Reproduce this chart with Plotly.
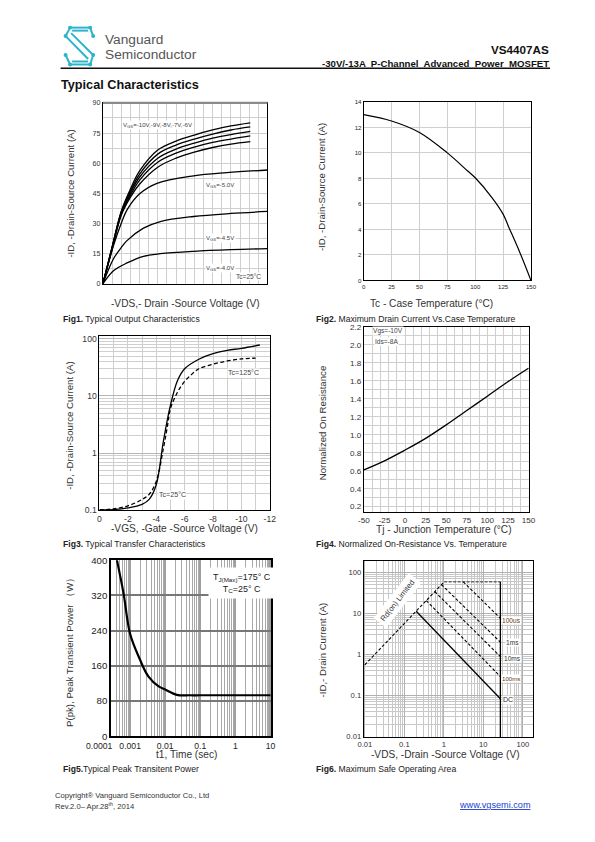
import plotly.graph_objects as go

W, H = 595, 842
FONT = "Liberation Sans"
NARROW = "Liberation Sans Narrow, Liberation Sans"

# ---------------- Fig1: output characteristics ----------------
vds_hi = [0, 0.25, 0.5, 0.75, 1.0, 1.5, 2.0, 2.5, 3.0, 3.5, 4.03]
id_vgs10 = [0, 18, 36, 47, 56, 66.5, 71, 74, 76.5, 78.5, 80]
id_vgs9 = [0, 18, 35.5, 46, 54.5, 64.5, 69, 72, 74.5, 76.5, 78]
id_vgs8 = [0, 18, 35, 45, 53, 62.5, 67, 70, 72.5, 74.2, 75.8]
id_vgs7 = [0, 17.5, 34.5, 44, 51.5, 60.5, 65, 68, 70.3, 72, 73.6]
id_vgs6 = [0, 17, 34, 43, 49.5, 58, 62.5, 65.5, 67.8, 69.5, 70.7]
vds_5 = [0, 0.29, 0.5, 0.66, 1.02, 1.48, 2.48, 3.39, 4.5]
id_vgs5 = [0, 19, 30, 36.8, 45, 50, 53.7, 55.3, 56.6]
vds_45 = [0, 0.29, 0.5, 0.66, 1.11, 1.57, 2.48, 3.5, 4.5]
id_vgs45 = [0, 12.5, 18, 21.5, 27.7, 31, 33.5, 35, 36]
vds_4 = [0, 0.29, 0.66, 1.11, 1.57, 2.48, 3.5, 4.5]
id_vgs4 = [0, 6.5, 10.4, 13.7, 15, 16.2, 17, 17.5]
fig1_yticks = [0, 15, 30, 45, 60, 75, 90]

# ---------------- Fig2: max drain current vs case temperature ----------------
tc2 = [0, 25, 50, 75, 93, 100, 115, 125, 130, 140, 150]
id2 = [13.0, 12.5, 11.6, 10.0, 8.6, 8.05, 6.5, 5.2, 4.2, 2.2, 0]

# ---------------- Fig3: transfer characteristics ----------------
vgs_25 = [0, 1, 2, 3, 3.5, 4, 4.5, 5, 5.5, 6, 7, 8, 9, 10, 11.3]
id_25 = [0.102, 0.103, 0.11, 0.127, 0.155, 0.28, 1.6, 6.9, 18.7, 30, 44, 55, 63, 68, 78]
vgs_125 = [0, 1, 2, 3, 3.5, 4, 4.5, 4.8, 5, 5.5, 6, 6.5, 7, 8, 9, 10, 11]
id_125 = [0.102, 0.106, 0.12, 0.155, 0.19, 0.32, 1.2, 3.1, 6, 11.7, 18, 24, 30, 36, 41, 44.5, 46]
fig3_xticks = [0, 2, 4, 6, 8, 10, 12]
fig3_xlabels = ["0", "-2", "-4", "-6", "-8", "-10", "-12"]

# ---------------- Fig4: normalized on-resistance ----------------
tj4 = [-50, -25, 0, 25, 50, 75, 100, 125, 150]
rn4 = [0.61, 0.71, 0.83, 0.96, 1.11, 1.27, 1.43, 1.59, 1.74]
fig4_xticks = [-50, -25, 0, 25, 50, 75, 100, 125, 150]

# ---------------- Fig5: peak transient power ----------------
t5 = [0.00042, 0.00065, 0.001, 0.00193, 0.0033, 0.0065, 0.01, 0.0215, 0.05, 0.1, 1, 10]
p5 = [400, 324, 232, 173, 136, 113, 106, 94, 93, 93, 93, 93]
fig5_xticks = [0.001, 0.01, 0.1, 1, 10]
fig5_xlabels = ["0.001", "0.01", "0.1", "1", "10"]

# ---------------- Fig6: safe operating area ----------------
rds_x = [0.01, 1.02]
rds_y = [0.56, 59]
lim_x = [1.02, 27]
lim_y = [59, 59]
vmax_x = [27, 27]
vmax_y = [0.0096, 59]
us100_x = [3.1, 27]
us100_y = [59, 7.6]
ms1_x = [0.87, 27]
ms1_y = [50.5, 2.0]
ms10_x = [0.59, 27]
ms10_y = [34, 0.89]
ms100_x = [0.36, 27]
ms100_y = [20.6, 0.29]
dc_x = [0.2, 27]
dc_y = [11.3, 0.083]
fig6_ticks = [0.01, 0.1, 1, 10, 100]
fig6_labels = ["0.01", "0.1", "1", "10", "100"]

# page-pixel -> layout-pixel correction (compensates the capture's inset/scale)
AX, BX, AY, BY = 6.0, 0.978, 3.8, 0.9906
FS = 1.015


def TX(p):
    return (p - AX) / BX


def TY(p):
    return (p - AY) / BY


def dom_x(a, b):
    return [TX(a) / W, TX(b) / W]


def dom_y(top, bottom):
    return [1 - TY(bottom) / H, 1 - TY(top) / H]


fig = go.Figure()


def line(x, y, ax, dash="solid", width=1.3, shape="spline", color="black"):
    fig.add_trace(go.Scatter(x=x, y=y, mode="lines", xaxis="x" + ax, yaxis="y" + ax,
                             line=dict(color=color, width=width, dash=dash, shape=shape),
                             showlegend=False, hoverinfo="skip"))


# Fig1
for ys in [id_vgs10, id_vgs9, id_vgs8, id_vgs7, id_vgs6]:
    line(vds_hi, ys, "")
line(vds_5, id_vgs5, "")
line(vds_45, id_vgs45, "")
line(vds_4, id_vgs4, "")
# Fig2
line(tc2, id2, "2", width=1.2)
# Fig3
line(vgs_25, id_25, "3", width=1.3)
line(vgs_125, id_125, "3", dash="4px,2.5px", width=1.3)
# Fig4
line(tj4, rn4, "4", width=1.3)
# Fig5
line(t5, p5, "5", width=2.2)
# Fig6
line(rds_x, rds_y, "6", dash="3px,2px", width=1.1, shape="linear")
line(lim_x, lim_y, "6", dash="3px,1.5px", width=1.5, shape="linear", color="#666")
line(vmax_x, vmax_y, "6", width=1.3, shape="linear")
for xs, ys in [(us100_x, us100_y), (ms1_x, ms1_y), (ms10_x, ms10_y), (ms100_x, ms100_y)]:
    line(xs, ys, "6", dash="3px,2px", width=1.1, shape="linear")
line(dc_x, dc_y, "6", width=1.3, shape="linear")

GRID = "#cfcfcf"
common = dict(showline=True, linecolor="black", linewidth=1, mirror=True, ticks="",
              zeroline=False, fixedrange=True)


def tf(size, color="#333", family=FONT):
    return dict(size=size * FS, color=color, family=family)


layout = dict(
    width=W, height=H, margin=dict(l=0, r=0, t=0, b=0),
    paper_bgcolor="white", plot_bgcolor="white", showlegend=False,
    font=dict(family=FONT, color="#222"),
)

# Fig1 axes
layout["xaxis"] = dict(domain=dom_x(102.7, 267), anchor="y", range=[0, 4.5], dtick=0.25,
                       showticklabels=False, gridcolor=GRID, **common)
layout["yaxis"] = dict(domain=dom_y(101, 282.7), anchor="x", range=[0, 90],
                       tickmode="array",
                       tickvals=[v * 7.5 for v in range(13)],
                       ticktext=[str(int(v * 7.5)) if (v * 7.5) in fig1_yticks else "" for v in range(13)],
                       tickfont=tf(7), gridcolor=GRID, **common)
# Fig2
layout["xaxis2"] = dict(domain=dom_x(363, 530), anchor="y2", range=[0, 150], dtick=25,
                        tickfont=tf(6, "#222"), gridcolor=GRID, **common)
layout["yaxis2"] = dict(domain=dom_y(100, 279.3), anchor="x2", range=[0, 14], dtick=2,
                        tickfont=tf(6, "#222"), gridcolor=GRID, **common)
# Fig3
layout["xaxis3"] = dict(domain=dom_x(99.3, 269.3), anchor="y3", range=[0, 12],
                        tickmode="array", tickvals=fig3_xticks, ticktext=fig3_xlabels,
                        tickfont=tf(8.5), gridcolor=GRID,
                        minor=dict(dtick=1, showgrid=True, gridcolor=GRID), **common)
layout["yaxis3"] = dict(domain=dom_y(335, 510), anchor="x3", type="log", range=[-1, 2.05],
                        tickmode="array", tickvals=[0.1, 1, 10, 100], ticktext=["0.1", "1", "10", "100"],
                        tickfont=tf(8.5), gridcolor="#b5b5b5",
                        minor=dict(dtick="D1", showgrid=True, gridcolor=GRID), **common)
# Fig4
layout["xaxis4"] = dict(domain=dom_x(363.3, 528.3), anchor="y4", range=[-50, 151],
                        tickmode="array", tickvals=fig4_xticks, ticktext=[str(v) for v in fig4_xticks],
                        showgrid=False, tickfont=tf(8),
                        minor=dict(tick0=-50, dtick=10, showgrid=True, gridcolor=GRID), **common)
layout["yaxis4"] = dict(domain=dom_y(326, 511.7), anchor="x4", range=[0.14, 2.2],
                        tickmode="array", tickvals=[0.2 * k for k in range(1, 12)],
                        ticktext=["%.1f" % (0.2 * k) for k in range(1, 12)],
                        tickfont=tf(8), gridcolor=GRID,
                        minor=dict(dtick=0.1, showgrid=True, gridcolor=GRID), **common)
# Fig5
c5 = dict(common)
c5["linewidth"] = 2
layout["xaxis5"] = dict(domain=dom_x(111, 271), anchor="y5", type="log", range=[-3.54, 1.03],
                        tickmode="array", tickvals=fig5_xticks, ticktext=fig5_xlabels,
                        tickfont=tf(8.5, "#222", NARROW),
                        gridcolor="#a0a0a0", gridwidth=1.5,
                        minor=dict(dtick="D1", showgrid=True, gridcolor="#a8a8a8", gridwidth=1.2), **c5)
layout["yaxis5"] = dict(domain=dom_y(560, 736.7), anchor="x5", range=[0, 400], dtick=80,
                        tickfont=tf(9.5, "#222", NARROW),
                        gridcolor="#777", gridwidth=1.5, **c5)
# Fig6
layout["xaxis6"] = dict(domain=dom_x(363, 531.7), anchor="y6", type="log", range=[-2.03, 2.25],
                        tickmode="array", tickvals=fig6_ticks, ticktext=fig6_labels,
                        tickfont=tf(7.5), gridcolor="#b0b0b0",
                        minor=dict(dtick="D1", showgrid=True, gridcolor="#c8c8c8"), **common)
layout["yaxis6"] = dict(domain=dom_y(561, 737.7), anchor="x6", type="log", range=[-2.016, 2.275],
                        tickmode="array", tickvals=[0.01, 0.1, 1, 10, 100],
                        ticktext=["0.01", "0.1", "1", "10", "100"],
                        tickfont=tf(7.5), gridcolor="#b0b0b0",
                        minor=dict(dtick="D1", showgrid=True, gridcolor="#c8c8c8"), **common)
fig.update_layout(**layout)

anns = []


def ann(x, y, text, size=9, xanchor="left", yanchor="middle", color="#222", family=FONT,
        angle=0, bg=None, pad=0):
    d = dict(x=TX(x) / W, y=1 - TY(y) / H, xref="paper", yref="paper", text=text, showarrow=False,
             xanchor=xanchor, yanchor=yanchor, textangle=angle,
             font=dict(size=size * FS, color=color, family=family), borderpad=pad)
    if bg:
        d["bgcolor"] = bg
    anns.append(d)


# Header
ann(104, 37.5, "Vanguard", size=13.5, color="#555")
ann(104, 52.5, "Semiconductor", size=13.5, color="#555")
ann(549, 47.5, "<b>VS4407AS</b>", size=11.5, xanchor="right", color="#111")
ann(549, 61.5, "<b>-30V/-13A  P-Channel  Advanced  Power  MOSFET</b>", size=9.5, xanchor="right", color="#111")
ann(60, 83.5, "<b>Typical Characteristics</b>", size=12.5, color="#111")

# Fig1 texts
ann(70, 192, "-ID, -Drain-Source Current (A)", size=9.5, xanchor="center", angle=-90, color="#333")
ann(185, 302, "-VDS,- Drain -Source Voltage (V)", size=10, xanchor="center", color="#333")
ann(62, 317.5, "<b>Fig1.</b> Typical Output Characteristics", size=8.5, color="#222")
ann(122, 123.5, "V<sub>GS</sub>=-10V,-9V,-8V,-7V,-6V", size=6, color="#444", bg="white")
ann(205, 183.5, "V<sub>GS</sub>=-5.0V", size=6, color="#444", bg="white")
ann(205, 236.5, "V<sub>GS</sub>=-4.5V", size=6, color="#444", bg="white")
ann(205, 266.5, "V<sub>GS</sub>=-4.0V", size=6, color="#444", bg="white")
ann(262, 275, "Tc=25°C", size=6.5, xanchor="right", color="#444", bg="white")

# Fig2 texts
ann(321, 186, "-ID, -Drain-Source Current (A)", size=9.5, xanchor="center", angle=-90, color="#333")
ann(431, 302, "Tc - Case Temperature (°C)", size=10, xanchor="center", color="#333")
ann(314, 318, "<b>Fig2.</b> Maximum Drain Current Vs.Case Temperature", size=8.5, color="#222")

# Fig3 texts
ann(70, 425, "-ID, -Drain-Source Current (A)", size=9.5, xanchor="center", angle=-90, color="#333")
ann(184, 528, "-VGS, -Gate -Source Voltage (V)", size=10, xanchor="center", color="#333")
ann(62, 543.5, "<b>Fig3.</b> Typical Transfer Characteristics", size=8.5, color="#222")
ann(227, 372, "Tc=125°C", size=7, color="#444", bg="white")
ann(158, 495, "Tc=25°C", size=7, color="#444", bg="white")

# Fig4 texts
ann(322, 423, "Normalized On Resistance", size=9.5, xanchor="center", angle=-90, color="#333")
ann(443, 529, "Tj - Junction Temperature (°C)", size=10, xanchor="center", color="#333")
ann(314, 543.5, "<b>Fig4.</b> Normalized On-Resistance Vs. Temperature", size=8.5, color="#222")
ann(371, 330.5, "Vgs=-10V", size=6.5, color="#444", bg="white")
ann(373, 340.5, "Ids=-8A", size=6.5, color="#444", bg="white")

# Fig5 texts
ann(70, 650, "P(pk), Peak Transient Power （W）", size=9.5, xanchor="center", angle=-90,
    color="#333")
ann(186, 755, "t1, Time (sec)", size=10, xanchor="center", color="#333")
ann(99, 746.5, "0.0001", size=8.5, xanchor="center", family=NARROW, color="#222")
ann(62, 769.5, "<b>Fig5.</b>Typical Peak Transitent Power", size=8.5, color="#222")
ann(208, 583, "T<sub>J(Max)</sub>=175° C<br>T<sub>C</sub>=25° C", size=8.8, family=NARROW,
    color="#222", bg="white", pad=4, yanchor="middle")

# Fig6 texts
ann(322, 650, "-ID,- Drain Current (A)", size=9.5, xanchor="center", angle=-90, color="#333")
ann(445, 755, "-VDS, -Drain -Source Voltage (V)", size=10, xanchor="center", color="#333")
ann(314, 769.5, "<b>Fig6.</b> Maximum Safe Operating Area", size=8.5, color="#222")
ann(397, 601, "Rd(on) Limited", size=7.5, xanchor="center", angle=-52, color="#333", bg="white", pad=3)
ann(511, 620.5, "100us", size=6.5, xanchor="center", color="#5a3a22", bg="white")
ann(512, 642.5, "1ms", size=6.5, xanchor="center", color="#333", bg="white")
ann(512, 658.5, "10ms", size=6.5, xanchor="center", color="#333", bg="white")
ann(510, 678.5, "100ms", size=6, xanchor="center", color="#5a3a22", bg="white")
ann(507, 700, "DC", size=7, xanchor="center", color="#333", bg="white")

# Footer
ann(54, 796, "Copyright® Vanguard Semiconductor Co., Ltd", size=7.5, color="#333")
ann(54, 806.5, "Rev.2.0– Apr.28<sup>th</sup>, 2014", size=7.5, color="#333")
ann(530, 806, "<u>www.vgsemi.com</u>", size=9, xanchor="right", color="#1a3fd0")

fig.update_layout(annotations=anns)

shapes = []


def P(x, y):
    return "%.5f,%.5f" % (TX(x) / W, 1 - TY(y) / H)


shapes.append(dict(type="line", xref="paper", yref="paper", x0=TX(60.5) / W, x1=TX(549) / W,
                   y0=1 - TY(66.3) / H, y1=1 - TY(66.3) / H, line=dict(color="#111", width=1.3)))
shapes.append(dict(type="line", xref="paper", yref="paper", x0=TX(102.7) / W, x1=TX(267) / W,
                   y0=1 - TY(101) / H, y1=1 - TY(101) / H, line=dict(color="#8a8a8a", width=2.2)))

LOGO = "#2cb4cc"
segs = [
    [(70, 25.5), (90, 25.5)],
    [(70, 25.5), (65.5, 34)],
    [(90, 25.5), (93, 34)],
    [(65.5, 34), (88, 57)],
    [(71, 31), (93, 53)],
    [(65.5, 53), (70, 62.5)],
    [(93, 53), (90, 62.5)],
    [(70, 62.5), (90, 62.5)],
    [(72, 28.5), (88, 28.5)],
    [(72, 59.5), (88, 59.5)],
]
for seg in segs:
    path = "M" + " L".join(P(x, y) for x, y in seg)
    shapes.append(dict(type="path", xref="paper", yref="paper", path=path,
                       line=dict(color=LOGO, width=2)))
for (x, y) in [(70, 25.5), (90, 25.5), (65.5, 34), (93, 34), (65.5, 53), (93, 53), (70, 62.5), (90, 62.5)]:
    r = 2
    shapes.append(dict(type="circle", xref="paper", yref="paper",
                       x0=TX(x - r) / W, x1=TX(x + r) / W, y0=1 - TY(y + r) / H, y1=1 - TY(y - r) / H,
                       fillcolor=LOGO, line=dict(color=LOGO, width=0)))
fig.update_layout(shapes=shapes)

POST = ("document.documentElement.style.margin='0';document.body.style.margin='0';"
        "document.documentElement.style.overflow='hidden';document.body.style.overflow='hidden';"
        "var d=document.querySelector('.plotly-graph-div');"
        "if(d){d.style.position='fixed';d.style.left='0px';d.style.top='0px';}")
fig.write_html("out.html", config={"displayModeBar": False}, post_script=POST)
